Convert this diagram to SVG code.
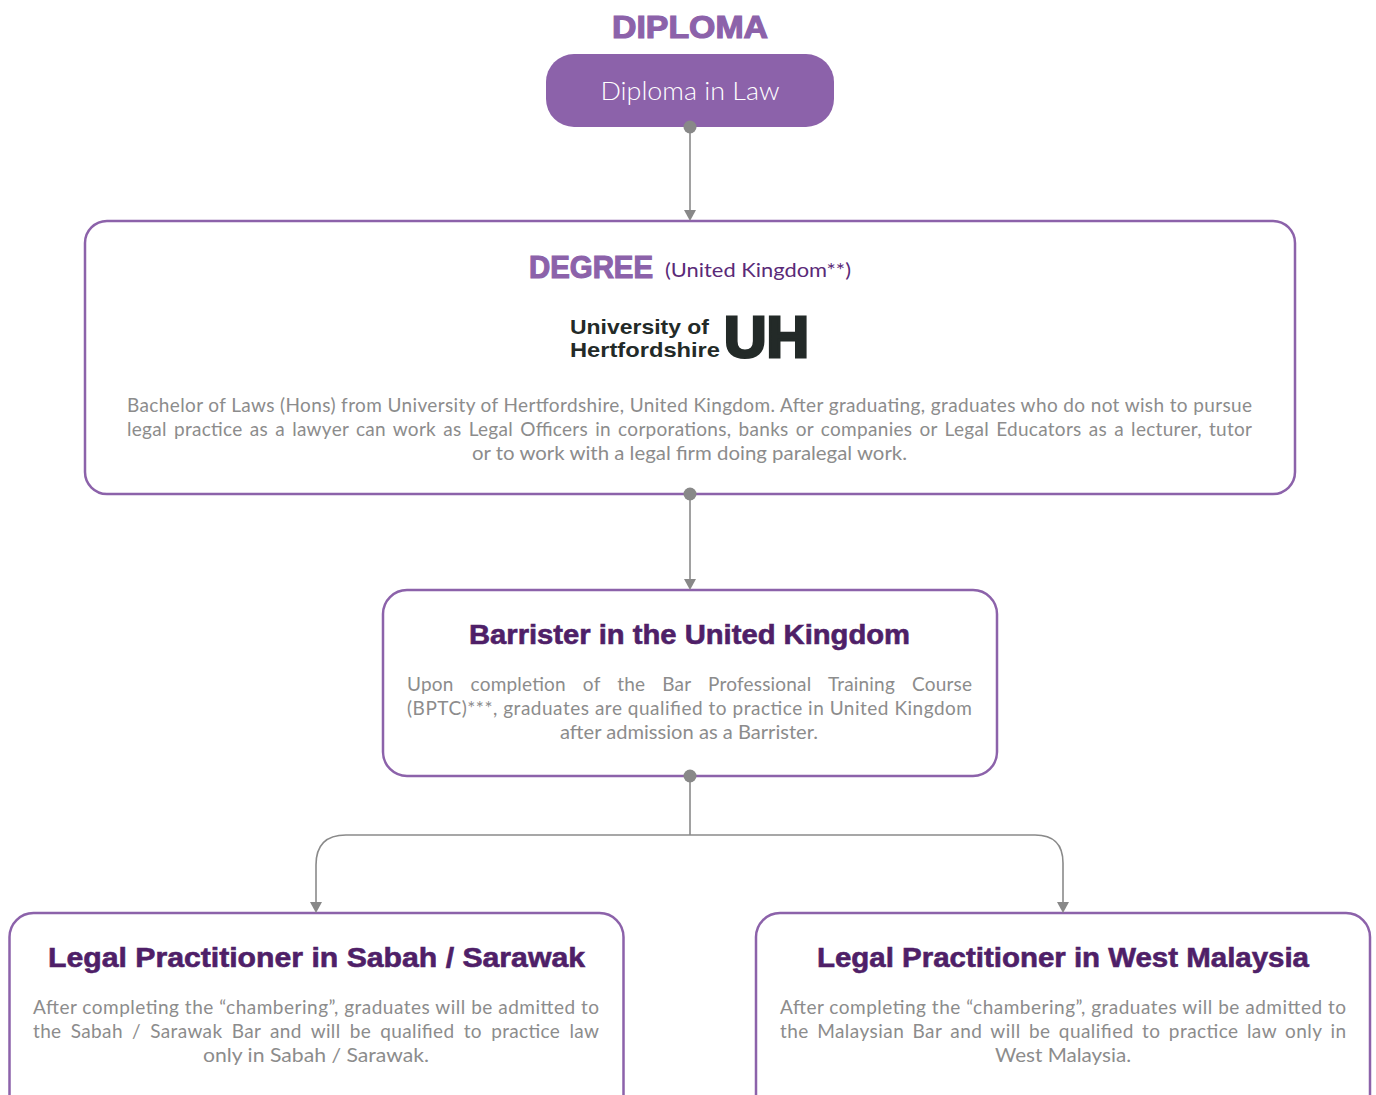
<svg xmlns="http://www.w3.org/2000/svg" width="1376" height="1095" viewBox="0 0 1376 1095">
<defs>
<style>
.box{fill:#fff;stroke:#8c62aa;stroke-width:2.5}
.conn{fill:none;stroke:#8a8a8a;stroke-width:1.6}
.dot{fill:#888}
.head{fill:#888}
.title{font-family:"Liberation Sans",Arial,sans-serif;font-weight:bold;fill:#4f1f68;stroke:#4f1f68;stroke-width:0.6;font-size:27px}
.body{font-family:Lato,"Liberation Sans",sans-serif;font-weight:400;fill:#8c8c8c;font-size:19px}
.big{font-family:"Liberation Sans",Arial,sans-serif;font-weight:bold;fill:#8c62aa;stroke:#8c62aa;stroke-width:1.2}
.logo{font-family:"Liberation Sans",Arial,sans-serif;font-weight:bold;fill:#232a28}
</style>
</defs>
<rect width="1376" height="1095" fill="#fff"/>

<g id="diploma">
<text class="big" x="690" y="38" font-size="32" text-anchor="middle" textLength="156" lengthAdjust="spacingAndGlyphs">DIPLOMA</text>
<rect x="546" y="54" width="288" height="73" rx="28" fill="#8c62aa"/>
<text x="690" y="100" font-family="Lato,'Liberation Sans',sans-serif" font-weight="300" font-size="26" fill="#fff" text-anchor="middle" textLength="179" lengthAdjust="spacingAndGlyphs">Diploma in Law</text>
</g>

<g id="degree">
<rect class="box" x="85" y="221" width="1210" height="273" rx="22"/>
<text class="big" x="529" y="278" font-size="32" textLength="124" lengthAdjust="spacingAndGlyphs">DEGREE</text>
<text x="665" y="277" font-family="Lato,'Liberation Sans',sans-serif" font-weight="400" font-size="20" fill="#5a2a78" textLength="186" lengthAdjust="spacingAndGlyphs">(United Kingdom**)</text>
<text class="logo" x="570" y="334" font-size="21" textLength="139" lengthAdjust="spacingAndGlyphs">University of</text>
<text class="logo" x="570" y="357" font-size="21" textLength="150" lengthAdjust="spacingAndGlyphs">Hertfordshire</text>
<text class="logo" x="724" y="357" font-size="57" stroke="#232a28" stroke-width="3" textLength="85" lengthAdjust="spacingAndGlyphs">UH</text>
<text class="body" x="127" y="412" textLength="1125" lengthAdjust="spacing">Bachelor of Laws (Hons) from University of Hertfordshire, United Kingdom. After graduating, graduates who do not wish to pursue</text>
<text class="body" x="127" y="436" word-spacing="2" textLength="1125" lengthAdjust="spacing">legal practice as a lawyer can work as Legal Officers in corporations, banks or companies or Legal Educators as a lecturer, tutor</text>
<text class="body" x="472" y="460" textLength="435" lengthAdjust="spacingAndGlyphs">or to work with a legal firm doing paralegal work.</text>
</g>

<g id="barrister">
<rect class="box" x="383" y="590" width="614" height="186" rx="24"/>
<text class="title" x="469" y="644" textLength="441" lengthAdjust="spacingAndGlyphs">Barrister in the United Kingdom</text>
<text class="body" x="407" y="691" word-spacing="12" textLength="565" lengthAdjust="spacing">Upon completion of the Bar Professional Training Course</text>
<text class="body" x="407" y="715" textLength="565" lengthAdjust="spacing">(BPTC)***, graduates are qualified to practice in United Kingdom</text>
<text class="body" x="560" y="739" textLength="258" lengthAdjust="spacingAndGlyphs">after admission as a Barrister.</text>
</g>

<g id="sabah">
<rect class="box" x="9.5" y="913" width="614" height="220" rx="24"/>
<text class="title" x="48" y="967" textLength="537" lengthAdjust="spacingAndGlyphs">Legal Practitioner in Sabah / Sarawak</text>
<text class="body" x="33" y="1014" textLength="566" lengthAdjust="spacing">After completing the “chambering”, graduates will be admitted to</text>
<text class="body" x="33" y="1038" word-spacing="4" textLength="566" lengthAdjust="spacing">the Sabah / Sarawak Bar and will be qualified to practice law</text>
<text class="body" x="203" y="1062" textLength="226" lengthAdjust="spacingAndGlyphs">only in Sabah / Sarawak.</text>
</g>

<g id="westmalaysia">
<rect class="box" x="756" y="913" width="614" height="220" rx="24"/>
<text class="title" x="817" y="967" textLength="492" lengthAdjust="spacingAndGlyphs">Legal Practitioner in West Malaysia</text>
<text class="body" x="780" y="1014" textLength="566" lengthAdjust="spacing">After completing the “chambering”, graduates will be admitted to</text>
<text class="body" x="780" y="1038" word-spacing="3" textLength="566" lengthAdjust="spacing">the Malaysian Bar and will be qualified to practice law only in</text>
<text class="body" x="995" y="1062" textLength="136" lengthAdjust="spacingAndGlyphs">West Malaysia.</text>
</g>

<g id="connectors">
<path class="conn" d="M690 127 V212"/>
<polygon class="head" points="684,210 696,210 690,221"/>
<path class="conn" d="M690 494 V581"/>
<polygon class="head" points="684,579 696,579 690,590"/>
<path class="conn" d="M690 776 V835"/>
<path class="conn" d="M690 835 H346 Q316 835 316 865 V904"/>
<polygon class="head" points="310,902 322,902 316,913"/>
<path class="conn" d="M690 835 H1035 Q1063 835 1063 863 V904"/>
<polygon class="head" points="1057,902 1069,902 1063,913"/>
<circle class="dot" cx="690" cy="127" r="6.5"/>
<circle class="dot" cx="690" cy="494" r="6.5"/>
<circle class="dot" cx="690" cy="776" r="6.5"/>
</g>
</svg>
